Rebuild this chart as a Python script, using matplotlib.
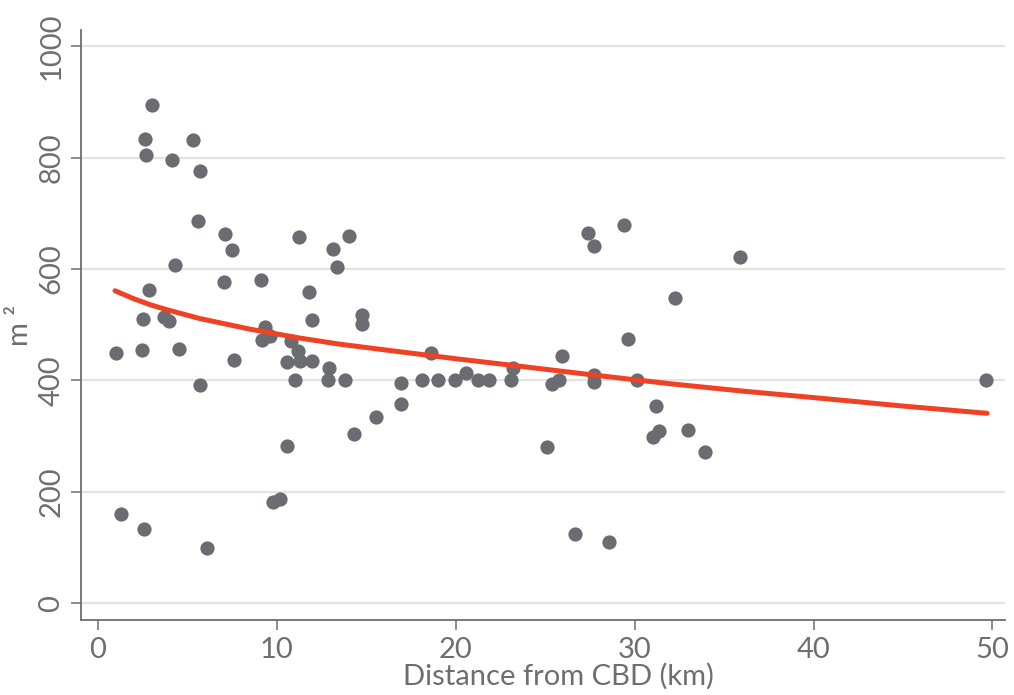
import matplotlib

matplotlib.use("Agg")

from matplotlib import pyplot as plt

# scatter points (distance km, floor area m2)
distance_km = [
    1.04, 1.30, 2.49, 2.55, 2.57, 2.64, 2.70, 2.88, 3.05, 3.71,
    3.97, 4.17, 4.30, 4.53, 5.31, 5.59, 5.72, 5.72, 6.11, 7.06,
    7.12, 7.53, 7.62, 9.11, 9.20, 9.35, 9.63, 9.78, 10.19, 10.60,
    10.60, 10.79, 11.00, 11.21, 11.27, 11.33, 11.83, 11.98, 11.98, 12.90,
    12.87, 13.17, 13.37, 13.82, 14.03, 14.32, 14.79, 14.79, 15.58, 16.94,
    16.95, 18.11, 18.65, 19.02, 19.99, 20.59, 21.24, 21.85, 23.10, 23.23,
    25.10, 25.38, 25.80, 25.95, 26.68, 27.42, 27.72, 27.74, 27.76, 28.60,
    29.40, 29.64, 30.16, 31.02, 31.19, 31.39, 32.25, 33.00, 33.96, 35.90,
    49.64,
]
area_m2 = [
    450, 160, 454, 510, 134, 834, 805, 562, 894, 514,
    506, 795, 607, 457, 831, 686, 776, 391, 100, 576,
    662, 635, 437, 581, 472, 496, 479, 182, 188, 283,
    433, 471, 400, 452, 658, 435, 558, 435, 508, 422,
    400, 636, 604, 400, 659, 304, 518, 501, 334, 396,
    358, 400, 449, 400, 400, 414, 400, 400, 400, 422,
    280, 393, 400, 444, 124, 665, 641, 410, 397, 110,
    679, 475, 400, 299, 355, 310, 548, 311, 272, 621,
    400,
]

# fitted trend line
trend_km = [0.97, 1.99, 2.92, 3.86, 5.72, 8.52, 11.31, 13.54, 17.0, 20.0,
            23.2, 27.9, 32.0, 36.0, 40.75, 45.0, 49.7]
trend_m2 = [561, 547, 536, 527, 511, 492, 476, 465, 451, 439,
            427, 409, 394, 381, 367, 354, 341]

x_ticks = [0, 10, 20, 30, 40, 50]
y_ticks = [0, 200, 400, 600, 800, 1000]

GREY = "#6d6e71"
GRID = "#e3e3e3"
RED = "#ef4123"
DOT = "#6b6c71"
FONT = ["Lato", "DejaVu Sans"]

fig = plt.figure(figsize=(10.14, 6.95), dpi=100)
ax = fig.add_axes([81 / 1014, 75 / 695, 924 / 1014, 590 / 695])

ax.scatter(distance_km, area_m2, s=105, color=DOT, linewidths=0, zorder=3)
ax.plot(trend_km, trend_m2, color=RED, linewidth=3.6, solid_capstyle="round",
        solid_joinstyle="round", zorder=4)

ax.set_xlim(-0.93, 50.7)
ax.set_ylim(-30, 1029)
ax.set_xticks(x_ticks)
ax.set_yticks(y_ticks)
ax.set_xticklabels([str(v) for v in x_ticks], family=FONT, fontsize=21, color=GREY)
ax.set_yticklabels([str(v) for v in y_ticks], family=FONT, fontsize=21, color=GREY,
                   rotation=90, va="center")

ax.grid(axis="y", color=GRID, linewidth=1.6, zorder=0)
ax.set_axisbelow(True)
for side in ("top", "right"):
    ax.spines[side].set_visible(False)
for side in ("left", "bottom"):
    ax.spines[side].set_color(GREY)
    ax.spines[side].set_linewidth(1.3)

ax.tick_params(color=GREY, length=7, width=1.1, pad=5)
ax.set_xlabel("Distance from CBD (km)", family=FONT, fontsize=21, color=GREY,
              labelpad=0, x=0.517)
ax.set_ylabel("m ²", family=FONT, fontsize=21, color=GREY, labelpad=4)

fig.savefig("out.png", dpi=100)
